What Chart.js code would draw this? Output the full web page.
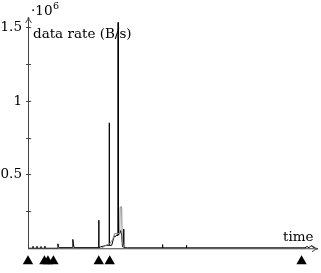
<!DOCTYPE html>
<html>
<head>
<meta charset="utf-8">
<script src="https://cdn.jsdelivr.net/npm/chart.js@4"></script>
<style>
  html, body { margin: 0; padding: 0; background: #fff; }
  #wrap { width: 321px; height: 273px; }
</style>
</head>
<body>
<div id="wrap"><canvas id="rateChart" width="321" height="273"></canvas></div>
<script>
// time axis in arbitrary units, data rate in 10^6 B/s
const rateTimes  = [0, 4.8, 5, 5.2, 8.8, 9, 9.2, 12.8, 13, 13.2, 16.8, 17, 17.2, 29.6, 30, 30.6, 31.2, 44.6, 45, 45.6, 46.2, 70.8, 71, 71.2, 73, 76, 79, 81.3, 81.5, 81.7, 84, 86, 87, 88, 89, 90.3, 90.5, 90.7, 92, 93, 94, 94.8, 95.8, 96, 96.2, 100, 134.8, 135, 135.2, 158.8, 159, 159.2, 278, 280, 282, 284, 286, 288];
const rateValues = [0, 0, 0.013, 0, 0, 0.013, 0, 0, 0.012, 0, 0, 0.014, 0, 0, 0.03, 0.012, 0.004, 0.004, 0.06, 0.03, 0.004, 0.004, 0.19, 0.004, 0.01, 0.015, 0.02, 0.02, 0.85, 0.02, 0.02, 0.07, 0.085, 0.08, 0.09, 0.085, 1.53, 0.09, 0.1, 0.12, 0.09, 0.01, 0.01, 0.13, 0.004, 0.003, 0.003, 0.025, 0.003, 0.003, 0.02, 0.003, 0.003, 0.012, 0.003, 0.018, 0.008, 0.004];

const grayTimes  = [74, 78, 82, 85, 87, 90, 92, 92.5, 94, 94.5, 96];
const grayValues = [0, 0.02, 0.03, 0.06, 0.1, 0.1, 0.1, 0.28, 0.28, 0.06, 0];

const markerTimes = [0, 16.5, 20, 25.5, 71, 82, 274.5];

const yTickValues = [0.25, 0.5, 0.75, 1, 1.25, 1.5];
const yTickLabels = ['', '0.5', '', '1', '', '1.5'];

const SERIF = '"DejaVu Serif", "Liberation Serif", serif';
const MARKER_Y = -0.0875;

const axesPlugin = {
  id: 'pgfAxes',
  afterDraw(chart) {
    const ctx = chart.ctx;
    const ys = chart.scales.y;
    const xs = chart.scales.x;
    const x0 = xs.getPixelForValue(0), y0 = ys.getPixelForValue(0);
    const top = ys.getPixelForValue(1.547);
    const right = xs.getPixelForValue(288);
    ctx.save();
    ctx.strokeStyle = '#444';
    ctx.lineWidth = 1;
    // y axis
    ctx.beginPath();
    ctx.moveTo(x0 + 0.5, y0);
    ctx.lineTo(x0 + 0.5, top - 2);
    ctx.stroke();
    ctx.beginPath();
    ctx.moveTo(x0 - 2.5, top + 3);
    ctx.quadraticCurveTo(x0 + 0.5, top - 1, x0 + 0.5, top - 3);
    ctx.quadraticCurveTo(x0 + 0.5, top - 1, x0 + 3.5, top + 3);
    ctx.stroke();
    // x axis
    ctx.beginPath();
    ctx.moveTo(x0, y0 + 0.5);
    ctx.lineTo(right + 2, y0 + 0.5);
    ctx.stroke();
    ctx.beginPath();
    ctx.moveTo(right - 3, y0 - 2.5);
    ctx.quadraticCurveTo(right + 1, y0 + 0.5, right + 3, y0 + 0.5);
    ctx.quadraticCurveTo(right + 1, y0 + 0.5, right - 3, y0 + 3.5);
    ctx.stroke();
    // y ticks and labels
    ctx.font = '13.5px ' + SERIF;
    ctx.fillStyle = '#000';
    ctx.textAlign = 'right';
    ctx.textBaseline = 'middle';
    yTickValues.forEach((v, i) => {
      const py = Math.round(ys.getPixelForValue(v)) + 0.5;
      ctx.beginPath();
      ctx.moveTo(x0 - 2, py);
      ctx.lineTo(x0 + 3, py);
      ctx.stroke();
      if (yTickLabels[i]) ctx.fillText(yTickLabels[i], x0 - 6, py);
    });
    // axis labels
    ctx.textAlign = 'left';
    ctx.textBaseline = 'alphabetic';
    ctx.fillText('data rate (B/s)', x0 + 5, 38);
    ctx.fillText('time', 283, y0 - 7);
    const m = ctx.measureText('\u00b710').width;
    ctx.fillText('\u00b710', x0 + 3, 15);
    ctx.font = '9.5px ' + SERIF;
    ctx.fillText('6', x0 + 3 + m + 0.5, 9);
    ctx.restore();
  }
};

new Chart(document.getElementById('rateChart'), {
  type: 'line',
  data: {
    datasets: [
      {
        label: 'gray',
        data: grayTimes.map((t, i) => ({ x: t, y: grayValues[i] })),
        borderColor: '#8a8a8a',
        borderWidth: 1,
        pointRadius: 0,
        tension: 0
      },
      {
        label: 'data rate',
        data: rateTimes.map((t, i) => ({ x: t, y: rateValues[i] })),
        borderColor: '#000',
        borderWidth: 1,
        pointRadius: 0,
        tension: 0
      },
      {
        label: 'events',
        type: 'scatter',
        data: markerTimes.map(t => ({ x: t, y: MARKER_Y })),
        pointStyle: 'triangle',
        pointRadius: 6,
        backgroundColor: '#000',
        borderColor: '#000',
        borderWidth: 0,
        clip: false
      }
    ]
  },
  options: {
    responsive: false,
    animation: false,
    layout: { padding: { left: 28, right: 5, top: 20, bottom: 4 } },
    plugins: { legend: { display: false }, tooltip: { enabled: false } },
    scales: {
      x: { type: 'linear', min: 0, max: 288, display: false },
      y: { min: -0.127, max: 1.547, display: false }
    }
  },
  plugins: [axesPlugin]
});
</script>
</body>
</html>
